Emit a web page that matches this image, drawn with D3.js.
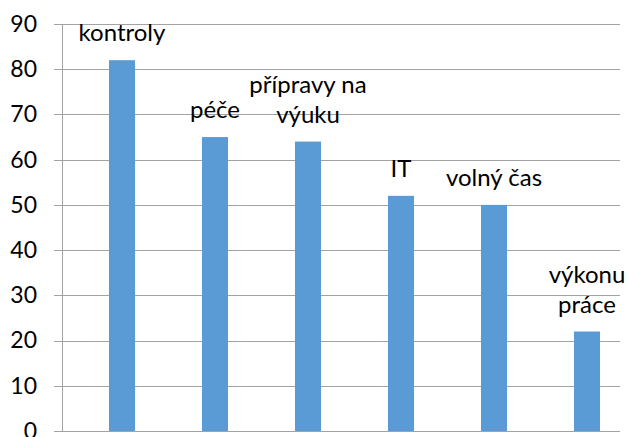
<!DOCTYPE html>
<html>
<head>
<meta charset="utf-8">
<script src="https://cdn.jsdelivr.net/npm/d3@7"></script>
<style>
  body { margin: 0; background: #fff; }
  text { font-family: Lato, "Open Sans", sans-serif; fill: #000; }
</style>
</head>
<body>
<script>
// data
var categories = ["kontroly", "péče", "přípravy na výuku", "IT", "volný čas", "výkonu práce"];
var values = [82, 65, 64, 52, 50, 22];
var labelLines = [["kontroly"], ["péče"], ["přípravy na", "výuku"], ["IT"], ["volný čas"], ["výkonu", "práce"]];
var yTicks = [0, 10, 20, 30, 40, 50, 60, 70, 80, 90];

const w = 627,
      h = 437,
      axisX = 62,
      gridEnd = 620;

const yScale = d3.scaleLinear()
                 .domain([0, 90])
                 .range([431, 24]);

const xScale = d3.scaleBand()
                 .domain(categories)
                 .range([75.5, 633.5])
                 .paddingInner(0.72)
                 .paddingOuter(0.36);

const svg = d3.select("body")
              .append("svg")
              .attr("width", w)
              .attr("height", h);

// gridlines
svg.append("g")
    .selectAll("line")
    .data(yTicks)
    .enter()
    .append("line")
    .attr("x1", axisX - 8)
    .attr("x2", gridEnd)
    .attr("y1", d => Math.round(yScale(d)) + 0.5)
    .attr("y2", d => Math.round(yScale(d)) + 0.5)
    .attr("stroke", "#a3a3a3")
    .attr("stroke-width", 1);

// y axis line
svg.append("line")
    .attr("x1", axisX + 0.5)
    .attr("x2", axisX + 0.5)
    .attr("y1", yScale(90))
    .attr("y2", yScale(0))
    .attr("stroke", "#a3a3a3");

// y tick labels
const yAxis = d3.axisLeft(yScale).tickValues(yTicks).tickSize(0).tickPadding(0);
const yg = svg.append("g")
    .attr("transform", "translate(37,0)")
    .call(yAxis);
yg.select(".domain").remove();
yg.selectAll("text")
    .attr("font-size", 23)
    .attr("fill", "#000")
    .style("font-family", "Lato, sans-serif");

// bars
svg.selectAll("rect.bar")
    .data(values)
    .enter()
    .append("rect")
    .attr("class", "bar")
    .attr("x", (d, i) => xScale(categories[i]))
    .attr("y", d => yScale(d))
    .attr("width", xScale.bandwidth())
    .attr("height", d => yScale(0) - yScale(d))
    .attr("fill", "#5b9bd5");

// data labels
const lab = svg.selectAll("text.lab")
    .data(values)
    .enter()
    .append("text")
    .attr("class", "lab")
    .attr("text-anchor", "middle")
    .attr("font-size", 24)
    .attr("x", (d, i) => xScale(categories[i]) + xScale.bandwidth() / 2)
    .attr("y", (d, i) => yScale(d) - 19 - (labelLines[i].length - 1) * 30);

lab.each(function(d, i) {
    d3.select(this).selectAll("tspan")
        .data(labelLines[i])
        .enter()
        .append("tspan")
        .attr("x", xScale(categories[i]) + xScale.bandwidth() / 2)
        .attr("dy", (t, j) => j === 0 ? 0 : 30)
        .text(t => t);
});
</script>
</body>
</html>
